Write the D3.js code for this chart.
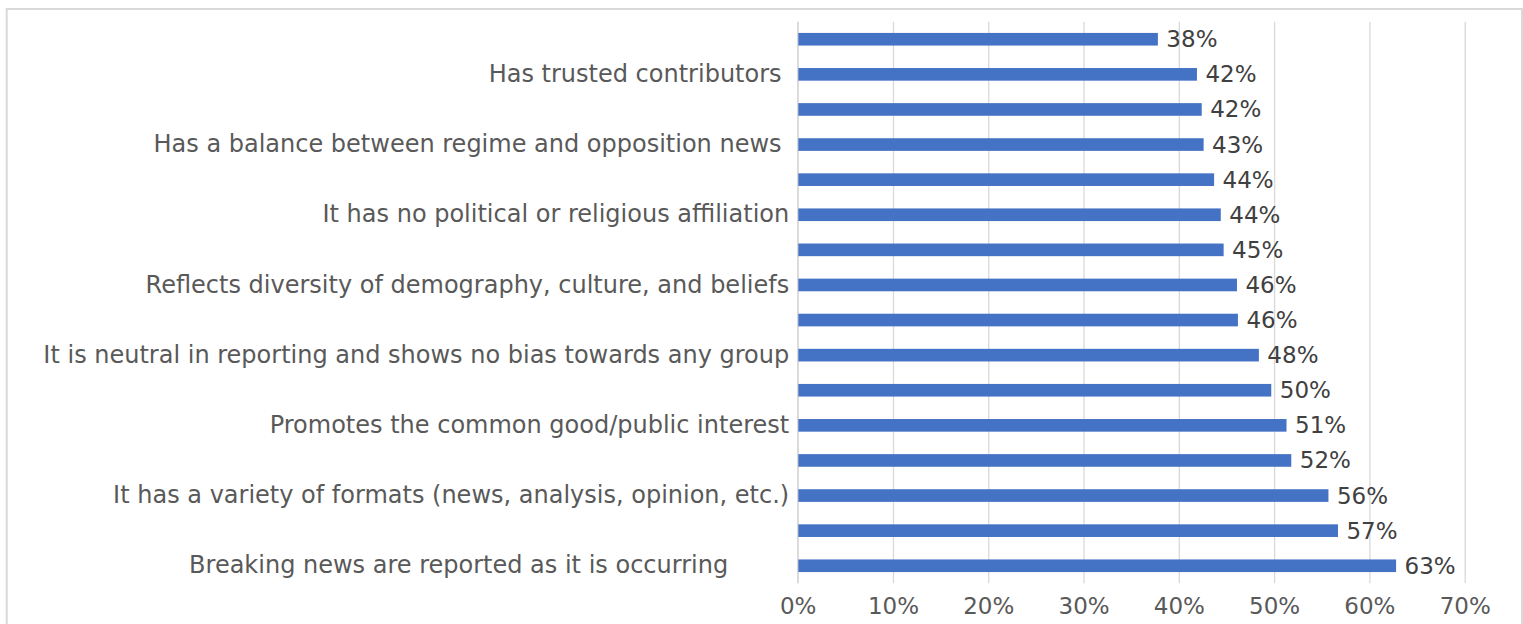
<!DOCTYPE html>
<meta charset="utf-8">
<head>
    <title>Bar chart</title>
    <style>
        body { margin: 0; background: #fff; }
        text { font-family: "DejaVu Sans", sans-serif; }
    </style>
</head>
<body>

    <script src="https://d3js.org/d3.v7.min.js"></script>

    <div id="my_dataviz"></div>

<script>

    // categories top to bottom (Excel only printed every other one)
    var categories = [
        "",
        "Has trusted contributors ",
        "",
        "Has a balance between regime and opposition news ",
        "",
        "It has no political or religious affiliation",
        "",
        "Reflects diversity of demography, culture, and beliefs",
        "",
        "It is neutral in reporting and shows no bias towards any group",
        "",
        "Promotes the common good/public interest",
        "",
        "It has a variety of formats (news, analysis, opinion, etc.)",
        "",
        "Breaking news are reported as it is occurring        "
    ]
    var values = [0.378, 0.419, 0.424, 0.426, 0.437, 0.444, 0.447, 0.461, 0.462, 0.484, 0.497, 0.513, 0.518, 0.557, 0.567, 0.628]
    var xTicks = [0, 0.1, 0.2, 0.3, 0.4, 0.5, 0.6, 0.7]

    var W = 1523, H = 624
    var margin = {top: 21.7, left: 797.7, right: 58.3, bottom: 40.7}
    var width = W - margin.left - margin.right,
        height = H - margin.top - margin.bottom

    var barColor = "#4472C4"
    var gridColor = "#d9d9d9"

    var svg = d3.select("#my_dataviz")
        .append("svg")
        .attr("width", W)
        .attr("height", H)

    // chart border
    svg.append("rect")
        .attr("x", 6.7)
        .attr("y", 9)
        .attr("width", 1515.3)
        .attr("height", 640)
        .attr("fill", "none")
        .attr("stroke", gridColor)
        .attr("stroke-width", 2)

    var g = svg.append("g")
        .attr("transform", "translate(" + margin.left + "," + margin.top + ")")

    var x = d3.scaleLinear()
        .domain([0, 0.7])
        .range([0, width])

    var y = d3.scaleBand()
        .domain(d3.range(categories.length))
        .range([0, height])
        .paddingInner(0.64)
        .paddingOuter(0.32)

    // vertical grid
    g.append("g")
        .attr("class", "grid")
        .attr("transform", "translate(0," + height + ")")
        .call(d3.axisBottom(x).tickValues(xTicks).tickSize(-height).tickFormat(""))
        .call(function(s) { s.select(".domain").remove() })
        .selectAll("line")
        .attr("stroke", gridColor)
        .attr("stroke-width", 1.3)

    // x axis labels
    g.append("g")
        .attr("transform", "translate(0," + height + ")")
        .call(d3.axisBottom(x).tickValues(xTicks).tickSize(0).tickPadding(14).tickFormat(d3.format(".0%")))
        .call(function(s) { s.select(".domain").remove() })
        .selectAll("text")
        .attr("fill", "#595959")
        .style("font-size", "23px")
        .style("font-family", "DejaVu Sans")

    // bars
    g.selectAll(".bar")
        .data(values)
        .enter()
        .append("rect")
        .attr("class", "bar")
        .attr("x", x(0))
        .attr("y", function(d, i) { return y(i) })
        .attr("width", function(d) { return x(d) - x(0) })
        .attr("height", y.bandwidth())
        .attr("fill", barColor)

    // axis line at 0
    g.append("line")
        .attr("x1", x(0)).attr("x2", x(0))
        .attr("y1", 0).attr("y2", height)
        .attr("stroke", gridColor)
        .attr("stroke-width", 1.3)

    // category labels
    g.append("g")
        .call(d3.axisLeft(y).tickSize(0).tickPadding(8.5).tickFormat(function(i) { return categories[i] }))
        .call(function(s) { s.select(".domain").remove() })
        .selectAll("text")
        .attr("fill", "#595959")
        .style("font-size", "24px")
        .style("font-family", "DejaVu Sans")
        .style("white-space", "pre")

    // value labels
    g.selectAll(".val")
        .data(values)
        .enter()
        .append("text")
        .attr("class", "val")
        .attr("x", function(d) { return x(d) + 8.5 })
        .attr("y", function(d, i) { return y(i) + y.bandwidth() / 2 })
        .attr("dy", "0.35em")
        .attr("fill", "#404040")
        .style("font-size", "23px")
        .text(function(d) { return Math.round(d * 100) + "%" })

</script>
</body>
